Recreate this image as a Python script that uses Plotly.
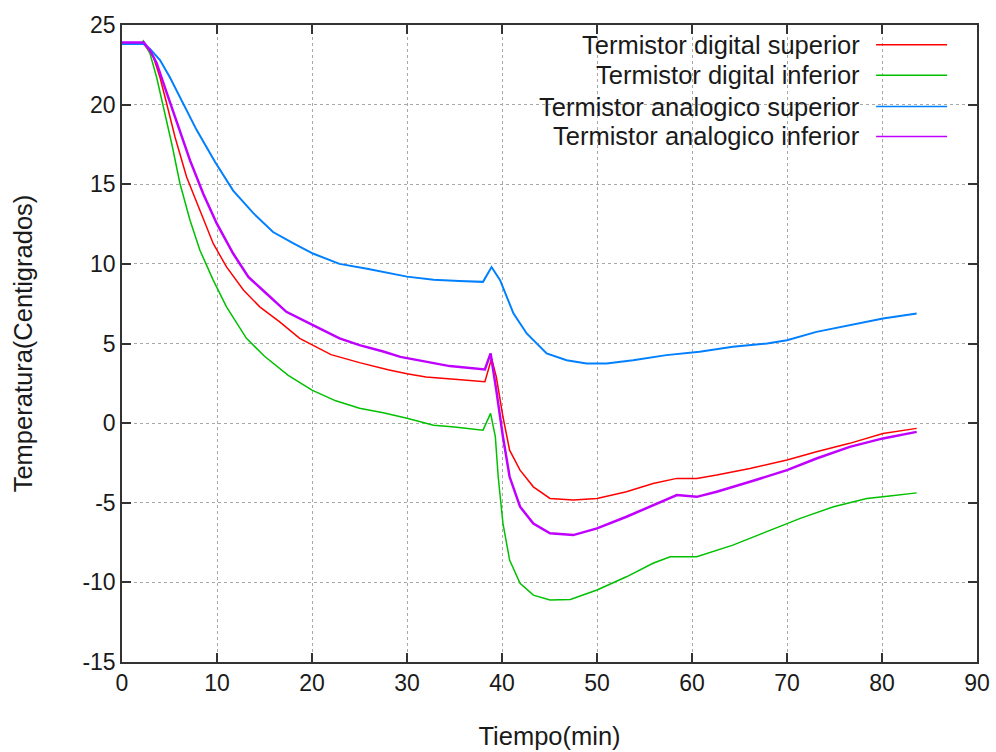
import plotly.graph_objects as go

# ---------------- data ----------------
names = ["Termistor digital superior", "Termistor digital inferior",
         "Termistor analogico superior", "Termistor analogico inferior"]
colors = ["#ff0000", "#00c000", "#0080ff", "#c000ff"]

t_dsup = [0, 2.3, 3.3, 4.0, 4.7, 5.58, 6.8, 8.2, 9.6, 11.0, 12.8, 14.5, 16.6, 18.7, 20, 22, 25, 28, 30, 32, 35,
          38.2, 38.9, 39.4, 40.1, 40.8, 41.9, 43.3, 45.05, 47.5, 50.0, 53.1, 55.9, 58.4, 60.5, 62.6, 66.1,
          70.0, 73.1, 76.6, 80.1, 83.65]
v_dsup = [23.8, 23.8, 23.0, 21.7, 20.07, 17.97, 15.46, 13.37, 11.28, 9.81, 8.35, 7.3, 6.36, 5.32, 4.9, 4.3, 3.8,
          3.35, 3.1, 2.9, 2.75, 2.6, 4.06, 2.91, 0.4, -1.7, -2.95, -4.0, -4.73, -4.83, -4.73, -4.31, -3.79,
          -3.47, -3.47, -3.26, -2.85, -2.32, -1.8, -1.27, -0.65, -0.33]

t_dinf = [0, 2.0, 2.25, 2.95, 3.65, 4.35, 5.23, 6.1, 7.16, 8.2, 9.6, 11.0, 13.1, 15, 17.5, 20, 22.5, 25, 27.5,
          30, 32.8, 35, 38.0, 38.8, 39.3, 39.6, 40.1, 40.8, 41.9, 43.3, 45.05, 47.2, 50.0, 53.1, 55.9, 57.7,
          60.5, 64.3, 67.9, 71.4, 74.9, 78.4, 80.8, 83.65]
v_dinf = [23.8, 23.8, 24.0, 23.2, 21.7, 19.86, 17.56, 15.05, 12.74, 10.86, 8.98, 7.3, 5.32, 4.2, 3.0, 2.07, 1.4,
          0.94, 0.65, 0.3, -0.13, -0.25, -0.44, 0.61, -0.86, -3.37, -6.3, -8.6, -10.06, -10.8, -11.1, -11.07,
          -10.48, -9.65, -8.8, -8.39, -8.39, -7.66, -6.82, -5.98, -5.25, -4.73, -4.58, -4.38]

t_asup = [0, 2.3, 2.95, 4.0, 5.05, 6.1, 7.86, 9.8, 11.7, 13.8, 15.9, 18.0, 20.1, 22.9, 25.8, 30.0, 32.8, 35.5,
          38.0, 38.9, 39.8, 41.2, 42.6, 44.7, 46.8, 48.9, 51.0, 53.8, 57.3, 60.8, 64.3, 67.9, 70.0, 73.1, 76.6,
          80.1, 83.65]
v_asup = [23.8, 23.8, 23.5, 22.8, 21.7, 20.5, 18.4, 16.4, 14.6, 13.2, 12.0, 11.3, 10.65, 10.0, 9.7, 9.2, 9.0,
          8.92, 8.87, 9.8, 8.98, 6.89, 5.63, 4.38, 3.95, 3.75, 3.75, 3.95, 4.27, 4.48, 4.79, 5.0, 5.21, 5.73,
          6.15, 6.57, 6.89]

t_ainf = [0, 2.3, 2.95, 3.65, 4.5, 5.75, 7.16, 8.55, 9.97, 11.7, 13.3, 15.2, 17.3, 20.1, 22.9, 25, 27.5, 29.3,
          32, 34.5, 38.2, 38.8, 39.4, 40.1, 40.8, 41.9, 43.3, 45.05, 47.5, 50.0, 53.1, 55.9, 58.4, 60.5, 62.6,
          66.1, 70.0, 73.1, 76.6, 80.1, 83.65]
v_ainf = [23.9, 23.9, 23.4, 22.6, 21.1, 19.0, 16.5, 14.4, 12.54, 10.65, 9.18, 8.14, 6.99, 6.15, 5.32, 4.9, 4.5,
          4.16, 3.85, 3.58, 3.37, 4.38, 2.07, -0.86, -3.37, -5.25, -6.3, -6.92, -7.03, -6.61, -5.88, -5.15,
          -4.52, -4.63, -4.31, -3.68, -2.95, -2.22, -1.49, -0.96, -0.55]

x_ticks = [0, 10, 20, 30, 40, 50, 60, 70, 80, 90]
y_ticks = [-15, -10, -5, 0, 5, 10, 15, 20, 25]
x_ticklabels = [str(v) for v in x_ticks]
y_ticklabels = [str(v) for v in y_ticks]   # plain hyphen minus, as in the reference

series = [(t_dsup, v_dsup), (t_dinf, v_dinf), (t_asup, v_asup), (t_ainf, v_ainf)]
widths = [1.5, 1.5, 2, 2.5]

FONT = "Liberation Sans"
TXT = "#1a1a1a"

fig = go.Figure()
for (tx, vy), nm, c, w in zip(series, names, colors, widths):
    fig.add_trace(go.Scatter(x=tx, y=vy, mode="lines", name=nm,
                             line=dict(color=c, width=w), showlegend=False))

axis_common = dict(showline=True, linecolor="#333", linewidth=1.5, mirror="allticks",
                   ticks="inside", ticklen=9, tickwidth=1.5, tickcolor="#333",
                   showgrid=True, gridcolor="#a8a8a8", griddash="dot", gridwidth=1,
                   zeroline=False, automargin=False,
                   tickfont=dict(family=FONT, size=23, color=TXT))

fig.update_xaxes(range=[0, 90], tickvals=x_ticks, ticktext=x_ticklabels,
                 title=dict(text="Tiempo(min)", font=dict(family=FONT, size=25.5, color=TXT), standoff=32),
                 **axis_common)
fig.update_yaxes(range=[-15, 25], tickvals=y_ticks, ticktext=y_ticklabels,
                 title=dict(text="Temperatura(Centigrados)", font=dict(family=FONT, size=25.5, color=TXT),
                            standoff=42),
                 **axis_common)

# opaque key box (hides the grid behind the key)
fig.add_shape(type="rect", xref="paper", yref="paper", x0=0.340, x1=0.999, y0=0.800, y1=0.998,
              fillcolor="white", line=dict(width=0), layer="between")

# key entries: right-aligned text with line sample on the right
key_y = [0.969, 0.921, 0.872, 0.825]
for nm, c, ky in zip(names, colors, key_y):
    fig.add_annotation(xref="paper", yref="paper", x=0.866, y=ky, text=nm, showarrow=False,
                       xanchor="right", yanchor="middle",
                       font=dict(family=FONT, size=25.5, color=TXT))
    fig.add_shape(type="line", xref="paper", yref="paper", x0=0.882, x1=0.965, y0=ky, y1=ky,
                  line=dict(color=c, width=1.5))

fig.update_layout(width=996, height=752, margin=dict(l=122, r=19, t=25, b=90),
                  paper_bgcolor="white", plot_bgcolor="white",
                  font=dict(family=FONT, color=TXT))

fig.write_html("out.html")
